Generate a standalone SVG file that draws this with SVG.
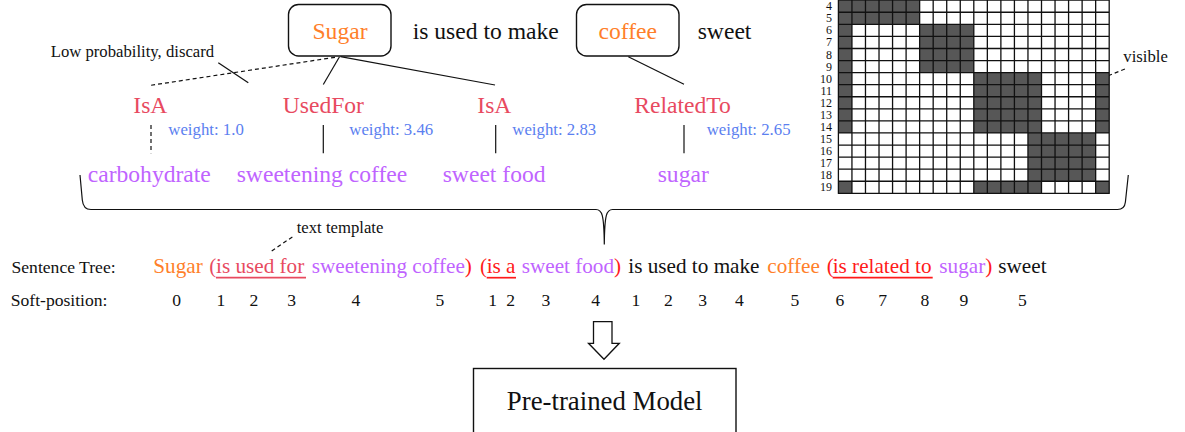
<svg xmlns="http://www.w3.org/2000/svg" width="1185" height="432" viewBox="0 0 1185 432" font-family="'Liberation Serif','Times New Roman',serif">
<style>
text,tspan{font-family:"Liberation Serif","Times New Roman",serif;}
.big{font-size:23.6px;font-family:"Liberation Serif","Times New Roman",serif;}
.sm{font-size:16.7px;fill:#111;font-family:"Liberation Serif","Times New Roman",serif;}
.lab{font-size:17.6px;fill:#111;font-family:"Liberation Serif","Times New Roman",serif;}
.sent{font-size:21.2px;font-family:"Liberation Serif","Times New Roman",serif;}
.org{fill:#ff7f2a;}
.rel{fill:#e84a5f;}
.red{fill:#ff1a1a;}
.ent{fill:#bf64ff;}
.wt{fill:#5b80f0;font-size:16.8px;font-family:"Liberation Serif","Times New Roman",serif;}
.blk{fill:#111;}
.box{fill:#fff;stroke:#111;stroke-width:1.4;}
.ln{stroke:#111;stroke-width:1.2;fill:none;}
.dash{stroke:#111;stroke-width:1.2;fill:none;stroke-dasharray:4 3;}
.rowl{font-size:12px;fill:#111;text-anchor:end;font-family:"Liberation Serif","Times New Roman",serif;}
.dig{font-size:17.6px;fill:#111;text-anchor:middle;font-family:"Liberation Serif","Times New Roman",serif;}
.dk{fill:#575757;}
</style>

<g id="node-sugar">
<rect class="box" x="288.5" y="4.5" width="102.5" height="51.5" rx="10"/>
<text class="big org" x="340" y="39.3" text-anchor="middle">Sugar</text>
</g>
<g id="node-isusedtomake"><text class="big blk" x="412.7" y="39.3">is used to make</text></g>
<g id="node-coffee">
<rect class="box" x="576.5" y="4.5" width="102.5" height="51.5" rx="10"/>
<text class="big org" x="627.8" y="39.3" text-anchor="middle">coffee</text>
</g>
<g id="node-sweet"><text class="big blk" x="697.7" y="39.3">sweet</text></g>

<g id="note-discard"><text class="sm" x="50.7" y="57.3">Low probability, discard</text></g>

<g id="rel-isa1"><text class="big rel" x="133.3" y="113.3">IsA</text><text class="wt" x="168.3" y="135">weight: 1.0</text></g>
<g id="rel-usedfor"><text class="big rel" x="282.7" y="113.3">UsedFor</text><text class="wt" x="349.3" y="135">weight: 3.46</text></g>
<g id="rel-isa2"><text class="big rel" x="477.3" y="113.3">IsA</text><text class="wt" x="512.3" y="135">weight: 2.83</text></g>
<g id="rel-relatedto"><text class="big rel" x="634.3" y="113.3">RelatedTo</text><text class="wt" x="706.7" y="135">weight: 2.65</text></g>

<g id="ent-carbohydrate"><text class="big ent" x="87.7" y="181.7">carbohydrate</text></g>
<g id="ent-sweeteningcoffee"><text class="big ent" x="236.7" y="181.7">sweetening coffee</text></g>
<g id="ent-sweetfood"><text class="big ent" x="442.7" y="181.7">sweet food</text></g>
<g id="ent-sugar"><text class="big ent" x="657.7" y="181.7">sugar</text></g>

<g id="connectors">
<line class="dash" x1="335" y1="57.3" x2="150.7" y2="85.3"/>
<line class="ln" x1="218.3" y1="62.7" x2="248.3" y2="82.7"/>
<line class="ln" x1="339.5" y1="56.7" x2="323.3" y2="84.5"/>
<line class="ln" x1="340.5" y1="56.7" x2="495" y2="85"/>
<line class="ln" x1="628.3" y1="56.7" x2="684" y2="84.3"/>
<line class="dash" x1="151" y1="125" x2="151" y2="153.3"/>
<line class="ln" x1="323.3" y1="125" x2="323.3" y2="153.3"/>
<line class="ln" x1="495.7" y1="125" x2="495.7" y2="153.3"/>
<line class="ln" x1="684" y1="125" x2="684" y2="153.3"/>
<path class="ln" d="M80,175 L82.3,200 Q83.2,209.5 91,209.5 L596,209.5 C602,209.5 604,214 604.3,244.5 C604.6,214 606.6,209.5 612.6,209.5 L1117.5,209.5 Q1124.6,209.5 1125.4,202 L1128.3,175"/>
<line class="dash" x1="1101.7" y1="78.3" x2="1126.7" y2="68.3"/>
<line class="dash" x1="271.7" y1="251" x2="292.7" y2="236.7"/>
<path d="M593.5,321.7 L612,321.7 L612,343.3 L619.3,343.3 L604,359.3 L588.5,343.3 L593.5,343.3 Z" fill="#fff" stroke="#111" stroke-width="1.3"/>
</g>

<g id="matrix">
<rect class="dk" x="838.4" y="0.2" width="81.24" height="24.14"/>
<rect class="dk" x="838.4" y="24.34" width="13.54" height="48.28"/>
<rect class="dk" x="919.64" y="24.34" width="54.16" height="48.28"/>
<rect class="dk" x="838.4" y="72.62" width="13.54" height="60.35"/>
<rect class="dk" x="973.8" y="72.62" width="67.7" height="60.35"/>
<rect class="dk" x="1095.66" y="72.62" width="13.54" height="60.35"/>
<rect class="dk" x="1027.96" y="132.97" width="67.7" height="48.28"/>
<rect class="dk" x="838.4" y="181.25" width="13.54" height="12.07"/>
<rect class="dk" x="973.8" y="181.25" width="67.7" height="12.07"/>
<rect class="dk" x="1095.66" y="181.25" width="13.54" height="12.07"/>
<path stroke="#111" stroke-width="1.3" fill="none" d="M838.4,0V193.32M851.94,0V193.32M865.48,0V193.32M879.02,0V193.32M892.56,0V193.32M906.1,0V193.32M919.64,0V193.32M933.18,0V193.32M946.72,0V193.32M960.26,0V193.32M973.8,0V193.32M987.34,0V193.32M1000.88,0V193.32M1014.42,0V193.32M1027.96,0V193.32M1041.5,0V193.32M1055.04,0V193.32M1068.58,0V193.32M1082.12,0V193.32M1095.66,0V193.32M1109.2,0V193.32 M837.8,0.2H1109.8M837.8,12.27H1109.8M837.8,24.34H1109.8M837.8,36.41H1109.8M837.8,48.48H1109.8M837.8,60.55H1109.8M837.8,72.62H1109.8M837.8,84.69H1109.8M837.8,96.76H1109.8M837.8,108.83H1109.8M837.8,120.9H1109.8M837.8,132.97H1109.8M837.8,145.04H1109.8M837.8,157.11H1109.8M837.8,169.18H1109.8M837.8,181.25H1109.8M837.8,193.32H1109.8"/>
<text class="rowl" x="832" y="10.2">4</text>
<text class="rowl" x="832" y="22.3">5</text>
<text class="rowl" x="832" y="34.4">6</text>
<text class="rowl" x="832" y="46.4">7</text>
<text class="rowl" x="832" y="58.5">8</text>
<text class="rowl" x="832" y="70.6">9</text>
<text class="rowl" x="832" y="82.7">10</text>
<text class="rowl" x="832" y="94.7">11</text>
<text class="rowl" x="832" y="106.8">12</text>
<text class="rowl" x="832" y="118.9">13</text>
<text class="rowl" x="832" y="130.9">14</text>
<text class="rowl" x="832" y="143">15</text>
<text class="rowl" x="832" y="155.1">16</text>
<text class="rowl" x="832" y="167.1">17</text>
<text class="rowl" x="832" y="179.2">18</text>
<text class="rowl" x="832" y="191.3">19</text>
</g>
<g id="note-visible"><text class="sm" x="1123.3" y="61.7">visible</text></g>
<g id="note-template"><text class="sm" x="296.7" y="233.3">text template</text></g>

<g id="sentence-tree">
<text class="lab" x="11.5" y="273.3">Sentence Tree:</text>
<text class="sent" y="273.3"><tspan class="org" x="153.3">Sugar</tspan><tspan class="rel" x="209.3">(</tspan><tspan class="rel" x="216">is used for</tspan><tspan class="ent" x="311.7">sweetening coffee</tspan><tspan class="red">)</tspan><tspan class="red" x="480">(</tspan><tspan class="red" x="486.7">is a</tspan><tspan class="ent" x="521.7">sweet food</tspan><tspan class="red">)</tspan><tspan class="blk" x="628.3">is used to make</tspan><tspan class="org" x="767.3">coffee</tspan><tspan class="red" x="826.7">(</tspan><tspan class="red" x="832.7">is related to</tspan><tspan class="ent" x="939.3">sugar</tspan><tspan class="red">)</tspan><tspan class="blk" x="998.3">sweet</tspan></text>
<line x1="216" y1="277.7" x2="306" y2="277.7" stroke="#e84a5f" stroke-width="1.7"/>
<line x1="486.7" y1="277.7" x2="516" y2="277.7" stroke="#ff1a1a" stroke-width="1.7"/>
<line x1="832.7" y1="277.7" x2="932.7" y2="277.7" stroke="#ff1a1a" stroke-width="1.7"/>
</g>

<g id="soft-position">
<text class="lab" x="10.7" y="305.7">Soft-position:</text>
<text class="dig" x="176.7" y="305.5">0</text>
<text class="dig" x="221" y="305.5">1</text>
<text class="dig" x="254" y="305.5">2</text>
<text class="dig" x="291.7" y="305.5">3</text>
<text class="dig" x="356" y="305.5">4</text>
<text class="dig" x="440" y="305.5">5</text>
<text class="dig" x="492.7" y="305.5">1</text>
<text class="dig" x="510.7" y="305.5">2</text>
<text class="dig" x="546" y="305.5">3</text>
<text class="dig" x="595.7" y="305.5">4</text>
<text class="dig" x="636" y="305.5">1</text>
<text class="dig" x="668.3" y="305.5">2</text>
<text class="dig" x="702.7" y="305.5">3</text>
<text class="dig" x="739.3" y="305.5">4</text>
<text class="dig" x="795" y="305.5">5</text>
<text class="dig" x="840" y="305.5">6</text>
<text class="dig" x="882.7" y="305.5">7</text>
<text class="dig" x="925" y="305.5">8</text>
<text class="dig" x="964" y="305.5">9</text>
<text class="dig" x="1022.3" y="305.5">5</text>
</g>

<g id="node-model">
<rect x="473.5" y="368.5" width="262.5" height="80" fill="#fff" stroke="#111" stroke-width="1.4"/>
<text x="604.7" y="410" font-size="26.8" fill="#111" text-anchor="middle">Pre-trained Model</text>
</g>
</svg>
